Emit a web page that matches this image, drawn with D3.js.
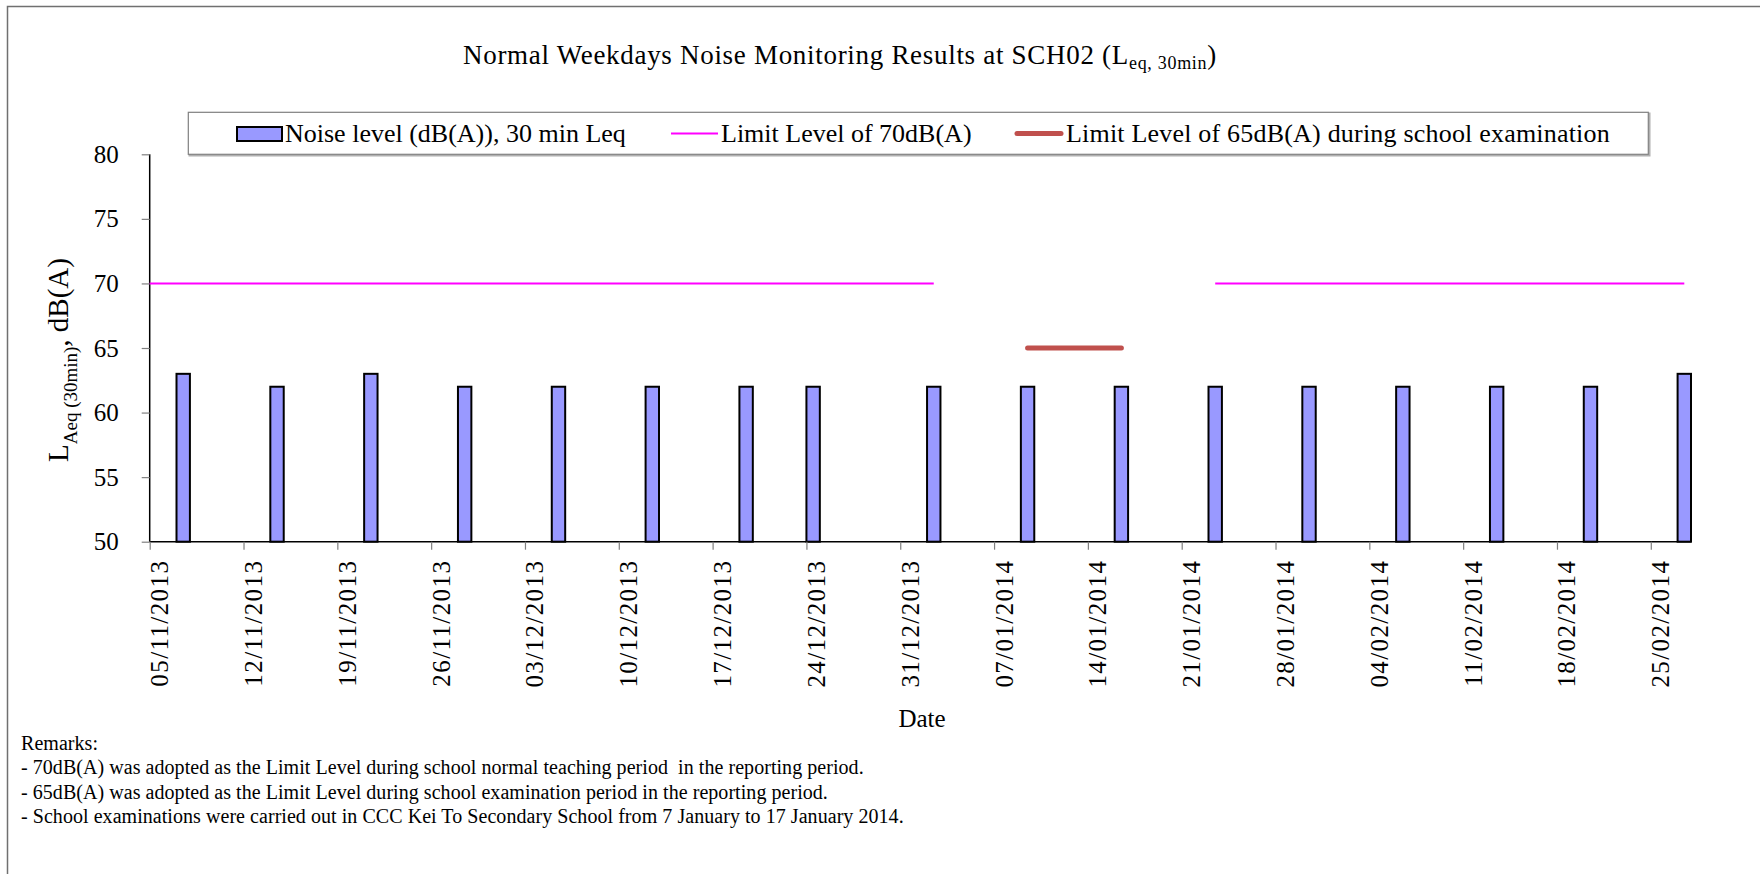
<!DOCTYPE html>
<html>
<head>
<meta charset="utf-8">
<script src="https://cdn.jsdelivr.net/npm/d3@7"></script>
<style>
  html, body { margin: 0; padding: 0; background: #fff; }
  svg { display: block; font-family: "Liberation Serif", "Times New Roman", serif; }
  .pre { white-space: pre; }
</style>
</head>
<body>
<svg id="chart" width="1760" height="874"></svg>
<script>
// ---------- data ----------
const barDates  = ["07/11/2013","14/11/2013","21/11/2013","28/11/2013","05/12/2013","12/12/2013","19/12/2013","24/12/2013","02/01/2014","09/01/2014","16/01/2014","23/01/2014","30/01/2014","06/02/2014","13/02/2014","20/02/2014","27/02/2014"];
const barValues = [63,62,63,62,62,62,62,62,62,62,62,62,62,62,62,62,63];

const limit70Dates  = ["04/11/2013","02/01/2014","09/01/2014","16/01/2014","23/01/2014","27/02/2014"];
const limit70Values = [70,70,null,null,70,70];

const limit65Dates  = ["09/01/2014","16/01/2014"];
const limit65Values = [65,65];

const xTickLabels = ["05/11/2013","12/11/2013","19/11/2013","26/11/2013","03/12/2013","10/12/2013","17/12/2013","24/12/2013","31/12/2013","07/01/2014","14/01/2014","21/01/2014","28/01/2014","04/02/2014","11/02/2014","18/02/2014","25/02/2014"];
const xDomain = ["05/11/2013","28/02/2014"];
const yTicks = [50,55,60,65,70,75,80];
const yDomain = [50,80];

const legendLabels = ["Noise level (dB(A)), 30 min Leq","Limit Level of 70dB(A)","Limit Level of 65dB(A) during school examination"];
const remarks = [
  "Remarks:",
  "- 70dB(A) was adopted as the Limit Level during school normal teaching period  in the reporting period.",
  "- 65dB(A) was adopted as the Limit Level during school examination period in the reporting period.",
  "- School examinations were carried out in CCC Kei To Secondary School from 7 January to 17 January 2014."
];

// ---------- setup ----------
const parse = d3.utcParse("%d/%m/%Y");
const svg = d3.select("#chart");
const L = 149.7, R = 1691, T = 154.3, B = 541.7;

const x = d3.scaleUtc().domain(xDomain.map(parse)).range([L, R]);
const y = d3.scaleLinear().domain(yDomain).range([B, T]);
const dayW = x(d3.utcDay.offset(parse(xDomain[0]), 1)) - x(parse(xDomain[0]));
const cx = d => x(d) + dayW / 2;

// frame (top + left)
svg.append("path").attr("d", `M7.5,874 L7.5,6.5 L1760,6.5`).attr("fill","none").attr("stroke","#707070").attr("stroke-width",1.5);

// title
const title = svg.append("text").attr("x", 840).attr("y", 64).attr("text-anchor","middle")
  .attr("font-size", 27).attr("letter-spacing", 0.7).attr("fill","#000");
title.append("tspan").text("Normal Weekdays Noise Monitoring Results at SCH02 (L");
title.append("tspan").attr("font-size", 18).attr("dy", 5).text("eq, 30min");
title.append("tspan").attr("dy", -5).text(")");

// legend
const lg = svg.append("g");
lg.append("rect").attr("x", 189.5).attr("y", 113.5).attr("width", 1460).attr("height", 42).attr("fill","none").attr("stroke","#b0b0b0").attr("stroke-width",2);
lg.append("rect").attr("x", 188.3).attr("y", 112.3).attr("width", 1460).attr("height", 42).attr("fill","#fff").attr("stroke","#808080").attr("stroke-width",1.2);
lg.append("rect").attr("x", 237).attr("y", 127).attr("width", 45).attr("height", 14).attr("fill","#9999FF").attr("stroke","#000").attr("stroke-width",2);
lg.append("text").attr("x", 285).attr("y", 142).attr("font-size", 26).text(legendLabels[0]);
lg.append("line").attr("x1", 671).attr("x2", 718).attr("y1", 133.5).attr("y2", 133.5).attr("stroke","#FF00FF").attr("stroke-width",2);
lg.append("text").attr("x", 721).attr("y", 142).attr("font-size", 26).text(legendLabels[1]);
lg.append("line").attr("x1", 1017).attr("x2", 1061).attr("y1", 133.5).attr("y2", 133.5).attr("stroke","#C0504D").attr("stroke-width",5).attr("stroke-linecap","round");
lg.append("text").attr("x", 1066).attr("y", 142).attr("font-size", 26).attr("letter-spacing", 0.2).text(legendLabels[2]);

// clip for plot area
svg.append("clipPath").attr("id","plotclip").append("rect").attr("x", L).attr("y", T - 5).attr("width", R - L).attr("height", B - T + 10);

// bars
svg.append("g").selectAll("rect").data(barDates.map((d,i)=>({d:parse(d), v:barValues[i]}))).join("rect")
  .attr("x", d => x(d.d))
  .attr("y", d => y(d.v))
  .attr("width", dayW)
  .attr("height", d => y(yDomain[0]) - y(d.v))
  .attr("fill", "#9999FF").attr("stroke", "#000").attr("stroke-width", 2);

// axes
const yAxis = svg.append("g").attr("transform", `translate(${L},0)`)
  .call(d3.axisLeft(y).tickValues(yTicks).tickSize(8).tickPadding(23).tickFormat(d3.format("d")));
yAxis.select(".domain").attr("stroke","#000").attr("stroke-width",1.5).attr("d", `M0,${T}V${B}`);
yAxis.selectAll(".tick line").attr("stroke","#808080").attr("stroke-width",1.2);
yAxis.selectAll(".tick text").attr("font-size", 25).attr("font-family","Liberation Serif").attr("fill","#000");

const xAxis = svg.append("g").attr("transform", `translate(0,${B})`)
  .call(d3.axisBottom(x).tickValues(xTickLabels.map(parse)).tickSize(8).tickFormat(d3.utcFormat("%d/%m/%Y")));
xAxis.select(".domain").attr("stroke","#000").attr("stroke-width",1.5).attr("d", `M${L},0H${R}`);
xAxis.selectAll(".tick line").attr("stroke","#808080").attr("stroke-width",1.2);
xAxis.selectAll(".tick text")
  .attr("x", 0).attr("y", 0).attr("dy", 0)
  .attr("transform", "translate(18,18) rotate(-90)")
  .attr("text-anchor", "end")
  .attr("font-size", 25).attr("font-family","Liberation Serif").attr("letter-spacing", 1.4).attr("fill","#000");

// limit lines
const gLines = svg.append("g").attr("clip-path","url(#plotclip)");
const line = d3.line().defined(d => d.v != null).x(d => cx(d.d)).y(d => y(d.v));
gLines.append("path").datum(limit70Dates.map((d,i)=>({d:parse(d), v:limit70Values[i]})))
  .attr("d", line).attr("fill","none").attr("stroke","#FF00FF").attr("stroke-width",2);
gLines.append("path").datum(limit65Dates.map((d,i)=>({d:parse(d), v:limit65Values[i]})))
  .attr("d", line).attr("fill","none").attr("stroke","#C0504D").attr("stroke-width",5).attr("stroke-linecap","round");

// axis titles
const yt = svg.append("text").attr("transform", "translate(68,360) rotate(-90)").attr("text-anchor","middle").attr("font-size", 29);
yt.append("tspan").text("L");
yt.append("tspan").attr("font-size", 19).attr("dy", 9).text("Aeq (30min)");
yt.append("tspan").attr("dy", -9).text(", dB(A)");

svg.append("text").attr("x", 922).attr("y", 727).attr("text-anchor","middle").attr("font-size", 25).text("Date");

// remarks
svg.append("g").selectAll("text").data(remarks).join("text")
  .attr("class", "pre")
  .attr("x", 21).attr("y", (d,i) => 750 + i * 24.3)
  .attr("font-size", 20).attr("letter-spacing", 0.05).text(d => d);
</script>
</body>
</html>
